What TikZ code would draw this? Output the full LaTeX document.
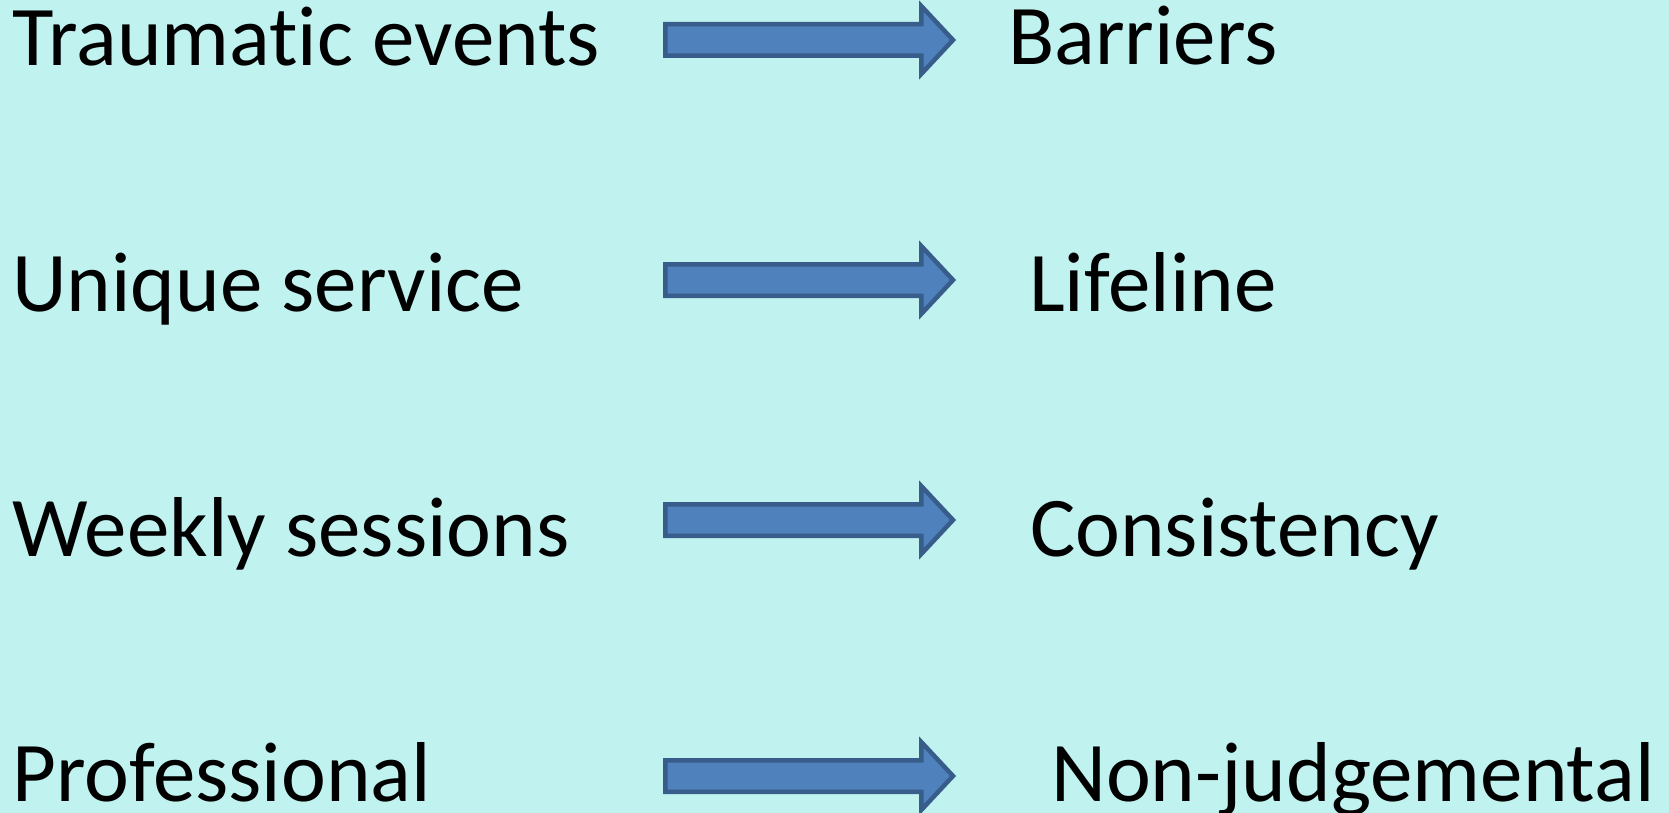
\documentclass[tikz,border=0pt]{standalone}
\usepackage{fontspec}
\setmainfont{Carlito}[Ligatures=NoCommon]
\definecolor{bgc}{RGB}{192,242,239}
\definecolor{arrfill}{RGB}{79,129,189}
\definecolor{arrdraw}{RGB}{56,93,138}
\tikzset{
  lbl/.style={anchor=base west, inner sep=0pt, font=\fontsize{85}{100}\selectfont, text=black},
  blockarr/.style={fill=arrfill, draw=arrdraw, line width=4.5pt, line join=miter},
}
\newcommand\blockarrow[1]{%
  \draw[blockarr] (665.25,{#1-15.75}) -- (921.25,{#1-15.75}) -- (921.25,{#1-34}) --
    (953,#1) -- (921.25,{#1+34}) -- (921.25,{#1+15.75}) -- (665.25,{#1+15.75}) -- cycle;}
\begin{document}
\begin{tikzpicture}[x=1pt,y=-1pt]
\fill[bgc] (0,0) rectangle (1669,813);
\useasboundingbox (0,0) rectangle (1669,813);
\node[lbl] (l1) at (12,66) {Traumatic events};
\node[lbl] (l2) at (12,311) {Unique service};
\node[lbl] (l3) at (12,556) {Weekly sessions};
\node[lbl] (l4) at (12,801) {Professional};
\node[lbl] (r1) at (1008,65) {Barriers};
\node[lbl] (r2) at (1029,311) {Lifeline};
\node[lbl] (r3) at (1030,556) {Consistency};
\node[lbl] (r4) at (1051,801) {Non-judgemental};
\blockarrow{40}
\blockarrow{280}
\blockarrow{520}
\blockarrow{776}
\end{tikzpicture}
\end{document}
